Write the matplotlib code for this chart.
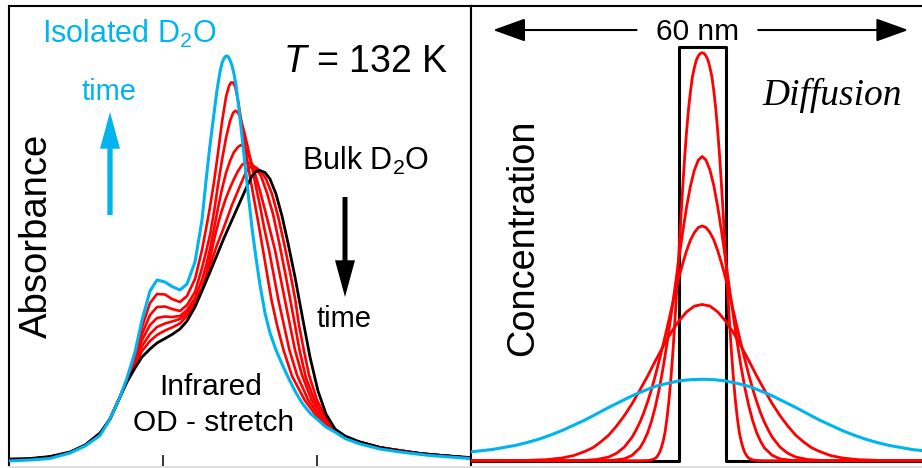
import numpy as np
import matplotlib
matplotlib.use("Agg")
import matplotlib.pyplot as plt

plt.rcParams['font.family'] = ['Liberation Sans', 'DejaVu Sans']
plt.rcParams['mathtext.fontset'] = 'custom'
plt.rcParams['mathtext.rm'] = 'Liberation Sans'
plt.rcParams['mathtext.it'] = 'Liberation Sans:italic'

CYAN = '#00b4ef'
RED = '#ff0000'

# ---------------- Left panel: OD-stretch spectra (relative wavenumber, absorbance in mOD) ----
nu_bulk = [0, 21, 41, 61, 76, 91, 101, 111, 118, 126, 133, 141, 148, 156, 163, 171, 178, 186, 193, 201,
           208, 215, 219, 223, 227, 231, 235, 239, 243, 247, 251, 256, 261, 267, 273, 279, 286, 293, 301, 309,
           317, 326, 336, 351, 371, 391, 421, 461]
abs_bulk = [8, 8.5, 10.5, 15, 22, 34, 48, 70, 85, 99, 110, 118, 124, 128.5, 132.5, 138, 146, 160, 176, 195,
            212, 229, 238, 247, 256, 265, 274, 283, 291, 295.5, 296.5, 294.5, 288, 273, 251, 224, 190, 152, 110, 76,
            53, 38, 31, 25, 19.5, 16, 12.5, 9.5]

nu_iso = [0, 21, 41, 61, 76, 91, 101, 111, 118, 126, 133, 141, 148, 156, 163, 171, 178, 186, 193, 197,
          201, 208, 211, 213, 215, 217, 219, 221, 223, 225, 227, 231, 235, 239, 243, 247, 251, 256, 261, 267,
          273, 279, 286, 293, 301, 309, 317, 326, 336, 351, 371, 391, 421, 461]
abs_iso = [6, 7, 8.5, 14, 21, 31.5, 48, 70, 89, 115, 147, 176, 187, 185, 180.5, 177, 183, 205, 247, 286,
           322, 377, 395, 404, 408.5, 411, 410.5, 407, 401.5, 393, 382, 349, 312, 275, 239, 209, 182, 154, 134, 117,
           103, 90, 76, 64, 54, 47, 40, 35, 28.5, 23, 18, 15, 11.5, 8.5]

nu_t1 = [0, 21, 41, 61, 76, 91, 101, 111, 118, 126, 133, 141, 148, 156, 163, 171, 178, 186, 193, 197, 201, 205,
         209, 213, 217, 220, 222, 224, 226, 229, 233, 237, 241, 245, 249, 254, 262.5, 268, 274.5, 283, 295.6, 309,
         324, 341, 371, 411, 461]
abs_t1 = [7, 8, 10, 14.5, 21.5, 33, 48, 70, 87, 112, 140, 164, 173, 172.5, 168, 165, 171, 188, 217, 238, 260, 285,
          314, 345, 370, 381, 384.5, 384.5, 381, 367, 341, 315, 290, 268, 246, 217, 167, 142, 117, 91, 67, 49,
          37, 27.5, 19.5, 13.5, 9]

nu_t2 = [0, 21, 41, 61, 76, 91, 101, 111, 118, 126, 133, 141, 148, 156, 163, 171, 178, 186, 193, 197, 201, 205,
         209, 213, 217, 221, 224, 226.5, 229, 231, 235, 239, 243, 247, 251, 255, 260, 269.4, 280.4, 288, 299.2,
         311, 325, 341, 371, 411, 461]
abs_t2 = [7, 8, 10, 14.5, 21.5, 33, 48, 70, 87, 109, 133, 152, 160, 160.5, 158, 156, 162, 175, 199, 215, 232, 255,
          282, 307, 329, 346, 354, 356.3, 354.5, 350, 336, 319, 300, 280, 261, 240, 217, 167, 117, 92, 67,
          50, 37, 27.5, 19.5, 13.5, 9]

nu_t3 = [0, 21, 41, 61, 76, 91, 101, 111, 118, 126, 133, 141, 148, 156, 163, 171, 178, 186, 193, 197, 201, 205,
         209, 213, 217, 221, 225, 229, 232, 235, 239, 243, 247, 251, 256, 261, 266, 275.9, 286, 293, 302.6, 313,
         325.5, 341, 371, 411, 461]
abs_t3 = [7, 8, 10, 14.5, 21.5, 33, 48, 70, 87, 106, 127, 142, 149, 150.5, 150, 151, 157, 169, 187, 201, 218, 238,
          259, 278, 294, 306, 315, 320, 322, 320.5, 314, 303, 290, 276, 257, 237, 217, 167, 117, 92, 67, 51,
          37, 27.5, 19.5, 13.5, 9]

nu_t4 = [0, 21, 41, 61, 76, 91, 101, 111, 118, 126, 133, 141, 148, 156, 163, 171, 178, 186, 193, 197, 201, 205,
         209, 213, 217, 221, 225, 229, 233, 236, 241, 246, 252, 258, 264, 270, 276, 281.3, 286, 290.5, 297, 305.4,
         315, 326, 341, 371, 411, 461]
abs_t4 = [7, 8, 10, 14.5, 21.5, 33, 48, 70, 87, 103, 121, 133, 140, 143.5, 145.5, 148, 154, 165, 179, 191, 208, 227,
          243, 257, 269, 279, 288, 296, 302, 304.5, 303.5, 300, 291, 274, 253, 225, 195, 167, 142, 117, 89, 67,
          49, 37, 27.5, 19.5, 13.5, 9]

nu_t5 = [0, 21, 41, 61, 76, 91, 101, 111, 118, 126, 133, 141, 148, 156, 163, 171, 178, 186, 193, 201, 208, 215,
         223, 231, 237, 242, 247, 253, 257, 263, 269, 275, 282, 286.3, 290, 294.8, 300, 308, 317, 326.7, 341,
         371, 411, 461]
abs_t5 = [7, 8, 10, 14.5, 21.5, 33, 48, 70, 87, 101, 116, 126, 132, 136.5, 139.5, 143.5, 151, 163, 177, 201, 222, 240,
          262, 281, 295, 301, 299.5, 294.5, 288, 273, 251, 224, 190, 167, 142, 117, 92, 67, 49, 37, 27.5,
          19.5, 13.5, 9]

intermediate_nu = [nu_t1, nu_t2, nu_t3, nu_t4, nu_t5]
intermediate_abs = [abs_t1, abs_t2, abs_t3, abs_t4, abs_t5]
tick_nu = [154, 308]

# ---------------- Right panel: concentration profiles (half profiles, position in nm) -------
pos_box = [-300, -30, -30, 30, 30, 300]
conc_box = [0, 0, 1, 1, 0, 0]

pos_d1 = [0, 2.5, 5, 7.5, 10, 12.5, 15, 17.5, 20, 22.5, 25, 27.5, 30, 32.5, 35, 37.5, 40, 42.5, 45, 47.5,
          50, 52.5, 55, 57.5, 60, 65, 70, 80, 300]
conc_d1 = [0.987, 0.985, 0.979, 0.969, 0.951, 0.929, 0.894, 0.851, 0.797, 0.734, 0.661, 0.582, 0.500, 0.418,
           0.339, 0.266, 0.203, 0.149, 0.106, 0.071, 0.048, 0.031, 0.019, 0.011, 0.006, 0.002, 0.0005, 0.0, 0.0]

pos_d2 = [0, 5, 10, 15, 20, 25, 30, 35, 40, 45, 50, 55, 60, 65, 70, 75, 80, 90, 100, 115, 130, 300]
conc_d2 = [0.736, 0.727, 0.703, 0.665, 0.614, 0.553, 0.487, 0.418, 0.351, 0.286, 0.227, 0.175, 0.132, 0.096,
           0.068, 0.047, 0.031, 0.013, 0.0045, 0.001, 0, 0]

pos_d3 = [0, 5, 10, 15, 20, 25, 30, 35, 40, 45, 50, 55, 60, 65, 70, 75, 80, 85, 90, 100, 110, 120, 135, 150, 170, 300]
conc_d3 = [0.568, 0.564, 0.552, 0.534, 0.508, 0.477, 0.442, 0.404, 0.363, 0.322, 0.282, 0.244, 0.207, 0.173,
           0.143, 0.116, 0.093, 0.074, 0.057, 0.033, 0.018, 0.009, 0.003, 0.001, 0, 0]

pos_d4 = [0, 10, 20, 30, 40, 50, 60, 70, 80, 90, 100, 110, 120, 130, 140, 150, 165, 180, 200, 230, 300]
conc_d4 = [0.378, 0.374, 0.360, 0.338, 0.310, 0.277, 0.242, 0.205, 0.171, 0.138, 0.109, 0.084, 0.062, 0.046,
           0.032, 0.023, 0.0125, 0.0067, 0.0026, 0.0005, 0]

pos_final = [0, 15, 30, 45, 60, 75, 90, 105, 120, 135, 150, 165, 180, 195, 210, 225, 240, 255, 270, 285, 300]
conc_final = [0.197, 0.196, 0.193, 0.187, 0.180, 0.169, 0.157, 0.143, 0.129, 0.114, 0.099, 0.086, 0.073, 0.062,
              0.052, 0.044, 0.037, 0.032, 0.027, 0.024, 0.021]


def mirror(pos, conc):
    """Build a symmetric profile from its right half."""
    p = np.asarray(pos, float)
    c = np.asarray(conc, float)
    return np.concatenate([-p[::-1], p[1:]]), np.concatenate([c[::-1], c[1:]])


W, H = 922, 468
fig = plt.figure(figsize=(W / 100, H / 100), dpi=100)
axL = fig.add_axes([9 / W, 1 / H, 462 / W, 461 / H])
axR = fig.add_axes([471 / W, 1 / H, 460 / W, 461 / H])

# ---- left panel ----
axL.set_xlim(0, 462)
axL.set_ylim(0, 461)
for nu, a in zip(intermediate_nu, intermediate_abs):
    axL.plot(nu, a, color=RED, lw=1.9, solid_joinstyle='round', zorder=2)
axL.plot(nu_bulk, abs_bulk, color='black', lw=2.0, solid_joinstyle='round', zorder=3)
axL.plot(nu_iso, abs_iso, color=CYAN, lw=2.2, solid_joinstyle='round', zorder=4)

axL.set_xticks(tick_nu)
axL.set_yticks([])
axL.tick_params(axis='x', direction='in', length=8.6, width=1.1, labelbottom=False, colors='black')
for side in ('left', 'top', 'right'):
    axL.spines[side].set_linewidth(1.5)
axL.spines['bottom'].set_color('#dddddd')
axL.spines['bottom'].set_linewidth(1.5)

axL.text(32.7, 424.3, 'Isolated D$_\\mathregular{2}$O', color=CYAN, fontsize=22, ha='left', va='baseline')
axL.text(100, 367, 'time', color=CYAN, fontsize=21, ha='center', va='baseline')
axL.arrow(101, 252, 0, 103, width=5.3, head_width=20, head_length=36.7, length_includes_head=True,
          color=CYAN, lw=0, zorder=5)
axL.text(274, 395.3, '$\\mathit{T}$ = 132 K', color='black', fontsize=27, ha='left', va='baseline')
axL.text(292.7, 297, 'Bulk D$_\\mathregular{2}$O', color='black', fontsize=22, ha='left', va='baseline')
axL.arrow(336, 270, 0, -100, width=5.0, head_width=20, head_length=36.7, length_includes_head=True,
          color='black', lw=0, zorder=5)
axL.text(335, 139.7, 'time', color='black', fontsize=21, ha='center', va='baseline')
axL.text(201.5, 72, 'Infrared', color='black', fontsize=21.5, ha='center', va='baseline')
axL.text(205, 36.3, 'OD - stretch', color='black', fontsize=21.5, ha='center', va='baseline')
axL.text(38, 231, 'Absorbance', color='black', fontsize=27.5, rotation=90, rotation_mode='anchor',
         ha='center', va='baseline')

# ---- right panel ----
axR.set_xlim(-297, 294)
axR.set_ylim(-0.0152, 1.0999)
axR.plot(pos_box, conc_box, color='black', lw=2.2, zorder=2)
for pos, conc in ((pos_d1, conc_d1), (pos_d2, conc_d2), (pos_d3, conc_d3), (pos_d4, conc_d4)):
    x, c = mirror(pos, conc)
    axR.plot(x, c, color=RED, lw=2.0, solid_joinstyle='round', zorder=3)
x, c = mirror(pos_final, conc_final)
axR.plot(x, c, color=CYAN, lw=2.2, solid_joinstyle='round', zorder=4)

axR.set_xticks([])
axR.set_yticks([])
axR.spines['right'].set_visible(False)
axR.spines['left'].set_linewidth(1.5)
axR.spines['top'].set_linewidth(1.5)
axR.spines['bottom'].set_color('#dddddd')
axR.spines['bottom'].set_linewidth(1.5)

axR.text(-217.6, 0.5387, 'Concentration', color='black', fontsize=27.3, rotation=90, rotation_mode='anchor',
         ha='center', va='baseline')
axR.text(-5.5, 1.0177, '60 nm', color='black', fontsize=21.5, ha='center', va='baseline')
arrow_kw = dict(arrowstyle='-|>,head_length=2.0,head_width=0.72', lw=1.5, color='black',
                shrinkA=0, shrinkB=0, mutation_scale=10)
axR.annotate('', xy=(-268.6, 1.0418), xytext=(-84.3, 1.0418), arrowprops=arrow_kw)
axR.annotate('', xy=(264.8, 1.0418), xytext=(72, 1.0418), arrowprops=arrow_kw)
axR.text(77.7, 0.8604, 'Diffusion', color='black', fontsize=27, ha='left', va='baseline',
         family='Liberation Serif', style='italic')

fig.savefig('out.png', dpi=100)
